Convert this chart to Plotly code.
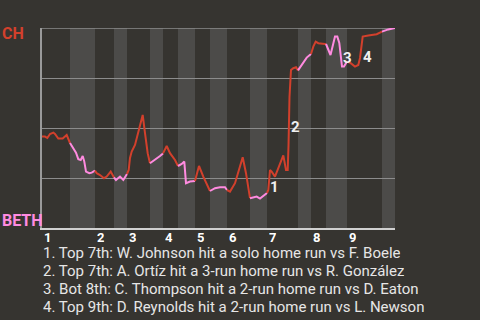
import plotly.graph_objects as go

# half-inning boundaries along the play axis (top 1, bot 1, top 2, ...)
half_bounds = [0, 28, 53, 72, 85, 108, 121, 136, 153, 168, 185, 208, 225, 256, 269, 284, 305, 340, 353]
innings = ["1", "2", "3", "4", "5", "6", "7", "8", "9"]

# play position and CH win probability
play_x = [0, 3, 5.3, 8, 11.3, 13, 16.3, 20.7, 24.7, 28,
          31.3, 34, 36.3, 38.7, 40.7, 42.3, 44, 47.3, 49.7, 53,
          54.7, 58, 62, 64.7, 68.7, 72,
          74, 78, 81.3, 85,
          86.7, 88, 89.7, 93, 96.3, 100.7, 103, 105.7, 108,
          113, 118, 121,
          124.7, 128, 133, 136,
          139.7, 142.3, 144, 148, 153,
          157, 161.3, 165.7, 168,
          173, 178, 183, 185,
          188, 193, 200.7, 204, 208,
          211.3, 214.7, 218, 221.3, 225,
          226.3, 228, 229.7, 233, 236.3, 241.3, 244, 245.7, 246.5, 247.5, 249, 251.3, 254, 256,
          258.7, 262, 264.7, 269,
          271.3, 273.7, 276.3, 283, 284,
          288.5, 293, 295.3, 297.3, 298.7, 300, 302, 305,
          308.7, 313, 316.3, 318, 320.7, 326.3, 334.7, 340,
          346.3, 353]
win_prob = [0.457, 0.457, 0.45, 0.47, 0.477, 0.47, 0.447, 0.447, 0.465, 0.425,
            0.399, 0.377, 0.344, 0.34, 0.36, 0.332, 0.282, 0.274, 0.277, 0.287,
            0.274, 0.265, 0.249, 0.257, 0.282, 0.253,
            0.24, 0.257, 0.24, 0.27,
            0.29, 0.35, 0.382, 0.415, 0.482, 0.565, 0.474, 0.374, 0.324,
            0.34, 0.36, 0.373,
            0.41, 0.374, 0.34, 0.31,
            0.32, 0.332, 0.224, 0.232, 0.235,
            0.31, 0.257, 0.215, 0.185,
            0.199, 0.204, 0.204, 0.19,
            0.182, 0.224, 0.354, 0.274, 0.149,
            0.154, 0.157, 0.147, 0.16, 0.175,
            0.19, 0.29, 0.282, 0.257, 0.299, 0.363, 0.29, 0.29, 0.41, 0.655, 0.79, 0.799, 0.804, 0.788,
            0.807, 0.832, 0.852, 0.87,
            0.907, 0.932, 0.924, 0.92, 0.92,
            0.865, 0.957, 0.957, 0.925, 0.857, 0.807, 0.807, 0.832,
            0.824, 0.807, 0.815, 0.85, 0.957, 0.962, 0.969, 0.982,
            0.993, 1.0]

# key events: label, play position, win prob of label
event_labels = ["1", "2", "3", "4"]
event_x = [232, 253, 305, 325]
event_y = [0.205, 0.505, 0.85, 0.855]
notes = [
    "1. Top 7th: W. Johnson hit a solo home run vs F. Boele",
    "2. Top 7th: A. Ortíz hit a 3-run home run vs R. González",
    "3. Bot 8th: C. Thompson hit a 2-run home run vs D. Eaton",
    "4. Top 9th: D. Reynolds hit a 2-run home run vs L. Newson",
]
team_top, team_bottom = "CH", "BETH"

BG = "#363430"
BAND = "#4c4b49"
RED = "#d2402c"
PINK = "#ff8be0"
FONT = "Roboto"

W, H = 480, 320
L, R, T, B = 42, 395, 28, 228

fig = go.Figure()

shapes = []
for k in range(len(half_bounds) - 1):
    if k % 2 == 1:
        shapes.append(dict(type="rect", xref="x", yref="y", x0=half_bounds[k], x1=half_bounds[k + 1],
                           y0=0, y1=1, fillcolor=BAND, line_width=0, layer="below"))
shapes.append(dict(type="line", xref="x", yref="y", x0=half_bounds[0], x1=half_bounds[-1], y0=1, y1=1,
                   line=dict(color="#8c8c8c", width=1.5), layer="below"))

for k in range(len(half_bounds) - 1):
    lo, hi = half_bounds[k], half_bounds[k + 1]
    xs = [x for x in play_x if lo - 1e-9 <= x <= hi + 1e-9]
    ys = [y for x, y in zip(play_x, win_prob) if lo - 1e-9 <= x <= hi + 1e-9]
    fig.add_trace(go.Scatter(x=xs, y=ys, mode="lines",
                             line=dict(color=RED if k % 2 == 0 else PINK, width=2),
                             hoverinfo="skip", showlegend=False))

annotations = []
for i, lab in enumerate(innings):
    annotations.append(dict(x=half_bounds[2 * i], y=0, xref="x", yref="y", text=lab, showarrow=False,
                            xanchor="left", yanchor="top", xshift=1, yshift=-1, height=14, borderpad=0,
                            font=dict(family=FONT, size=13, color="#ffffff", weight="bold")))
for lab, ex, ey in zip(event_labels, event_x, event_y):
    annotations.append(dict(x=ex, y=ey, xref="x", yref="y", text=lab, showarrow=False,
                            xanchor="center", yanchor="middle", borderpad=0,
                            font=dict(family=FONT, size=15, color="#f0f0f0", weight="bold")))
for i, n in enumerate(notes):
    annotations.append(dict(x=42 / W, y=1 - (253 + i * 18) / H, xref="paper", yref="paper", text=n,
                            showarrow=False, xanchor="left", yanchor="middle", height=16, borderpad=0,
                            font=dict(family=FONT, size=15, color="#e6e6e6")))
annotations.append(dict(x=1 / W, y=1 - 34 / H, xref="paper", yref="paper", text=team_top, showarrow=False,
                        xanchor="left", yanchor="middle", borderpad=0,
                        font=dict(family=FONT, size=16, color=RED, weight="bold")))
annotations.append(dict(x=1 / W, y=1 - 220 / H, xref="paper", yref="paper", text=team_bottom, showarrow=False,
                        xanchor="left", yanchor="middle", borderpad=0,
                        font=dict(family=FONT, size=16, color=PINK, weight="bold")))

fig.update_layout(
    width=W, height=H, margin=dict(l=0, r=0, t=0, b=0),
    paper_bgcolor=BG, plot_bgcolor=BG,
    shapes=shapes, annotations=annotations,
    xaxis=dict(domain=[L / W, R / W], range=[half_bounds[0], half_bounds[-1]], showgrid=False,
               zeroline=False, showticklabels=False, showline=True, linecolor="#d0d0d0", linewidth=2,
               ticks="", fixedrange=True),
    yaxis=dict(domain=[1 - B / H, 1 - T / H], range=[0, 1], dtick=0.25, tick0=0, showgrid=True,
               gridcolor="#8c8c8c", gridwidth=1, zeroline=False, showticklabels=False,
               showline=True, linecolor="#9a9a9a", linewidth=2, ticks="", fixedrange=True),
)

fig.write_html("out.html")
